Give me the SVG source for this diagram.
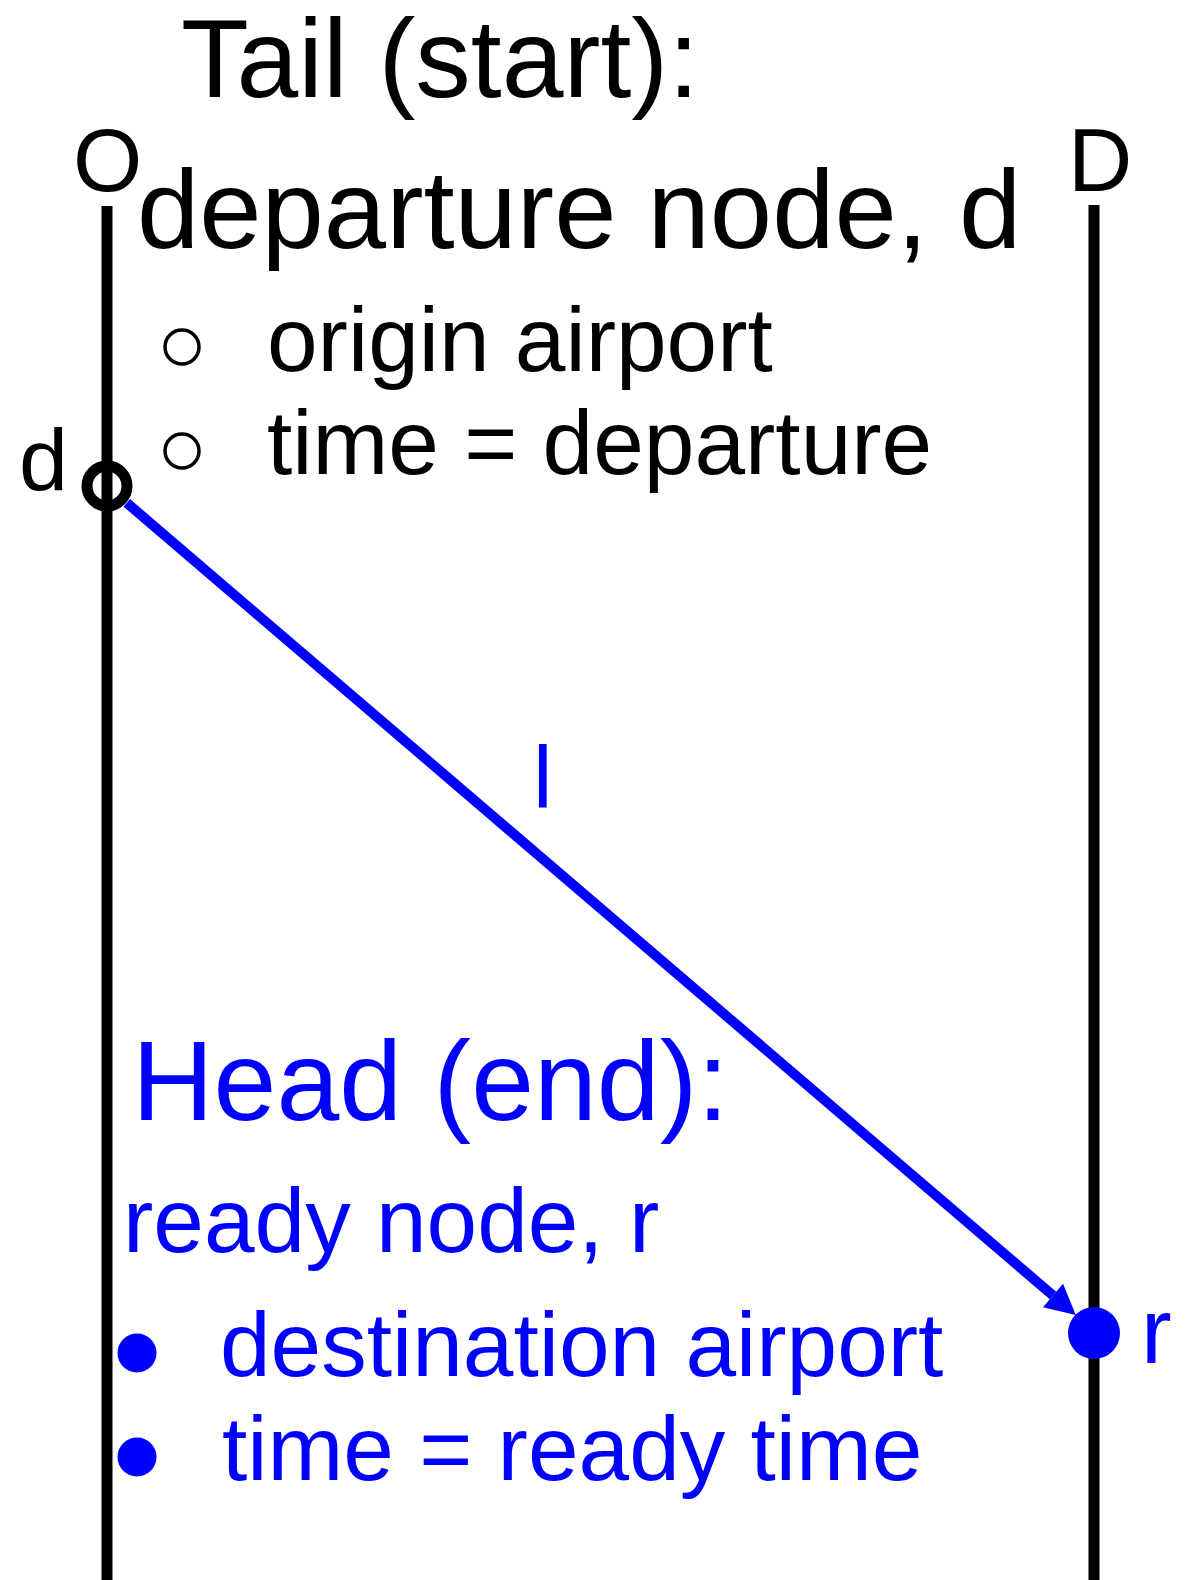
<svg xmlns="http://www.w3.org/2000/svg" width="1187" height="1580" viewBox="0 0 1187 1580">
  <style>
    text { font-family: "Liberation Sans", Arial, sans-serif; }
    .k { fill: #000000; }
    .b { fill: #0000FF; }
    .axis { stroke: #000000; stroke-width: 11; fill: none; }
    .hb { fill: none; stroke: #000000; stroke-width: 3.5; }
    .fb { fill: #0000FF; stroke: none; }
    .arc { stroke: #0000FF; stroke-width: 10; fill: none; }
  </style>
  <defs>
    <marker id="arrow" markerUnits="userSpaceOnUse" viewBox="0 -16 32 32" refX="0" refY="0" markerWidth="32" markerHeight="32" orient="auto" overflow="visible">
      <path d="M0,-15.5 L30,0 L0,15.5 Z" fill="#0000FF"/>
    </marker>
  </defs>
  <rect width="1187" height="1580" fill="#FFFFFF"/>

  <g id="axis-O">
    <line class="axis" x1="107" y1="206" x2="107" y2="1580"/>
    <text class="k" x="73" y="191" font-size="89">O</text>
  </g>
  <g id="axis-D">
    <line class="axis" x1="1094" y1="205" x2="1094" y2="1580"/>
    <text class="k" x="1068" y="191" font-size="89">D</text>
  </g>

  <g id="tail-text">
    <text class="k" x="181" y="97" font-size="111">Tail (start):</text>
    <text class="k" x="137" y="248" font-size="112">departure node, d</text>
    <circle class="hb" cx="182" cy="347" r="17"/>
    <text class="k" x="267" y="371" font-size="91">origin airport</text>
    <circle class="hb" cx="182" cy="451" r="17"/>
    <text class="k" x="267" y="474" font-size="91">time = departure</text>
  </g>

  <g id="connectors">
    <line class="arc" x1="126.8" y1="502.9" x2="1053" y2="1295.5" marker-end="url(#arrow)"/>
    <text class="b" x="533" y="807" font-size="88">l</text>
  </g>

  <g id="node-d">
    <circle cx="107" cy="486" r="20" fill="none" stroke="#000000" stroke-width="11"/>
    <text class="k" x="19" y="490" font-size="88">d</text>
  </g>

  <g id="node-r">
    <circle class="fb" cx="1094" cy="1333" r="26"/>
    <text class="b" x="1141" y="1363" font-size="92">r</text>
  </g>

  <g id="head-text">
    <text class="b" x="132" y="1120" font-size="113">Head (end):</text>
    <text class="b" x="123" y="1252" font-size="91">ready node, r</text>
    <circle class="fb" cx="137" cy="1353" r="19.5"/>
    <text class="b" x="220" y="1376" font-size="91">destination airport</text>
    <circle class="fb" cx="137" cy="1457" r="19.5"/>
    <text class="b" x="222" y="1480" font-size="91">time = ready time</text>
  </g>
</svg>
